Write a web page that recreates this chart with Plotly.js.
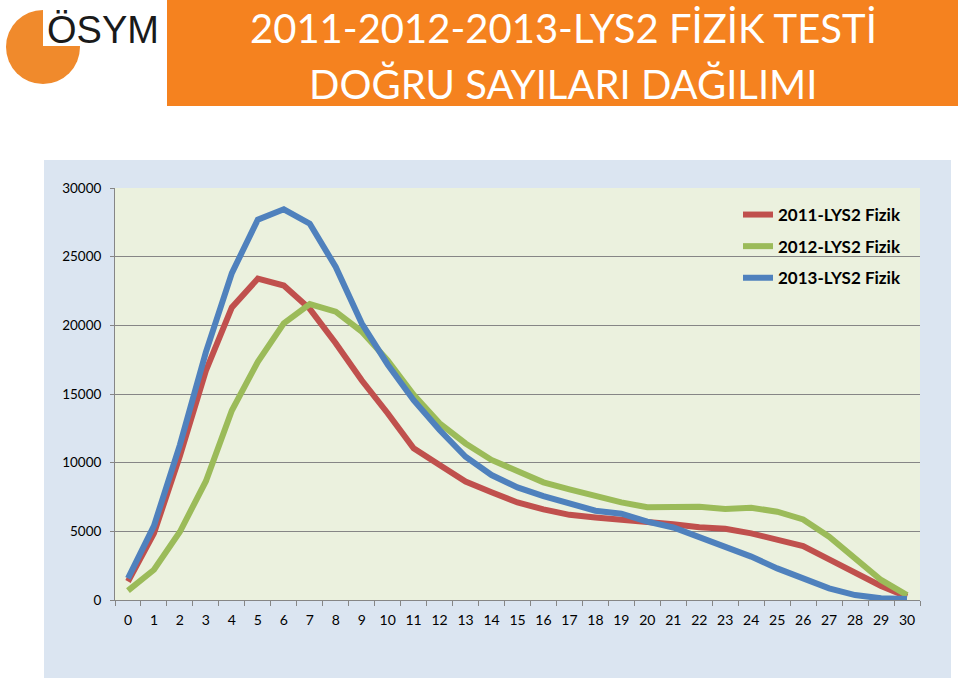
<!DOCTYPE html>
<html>
<head>
<meta charset="utf-8">
<script src="https://cdn.plot.ly/plotly-3.0.1.min.js"></script>
<style>
html,body{margin:0;padding:0;background:#ffffff;}
#chart{width:960px;height:680px;}
</style>
</head>
<body>
<div id="chart"></div>
<script>
// Categories: number of correct answers
const categories = ["0","1","2","3","4","5","6","7","8","9","10","11","12","13","14","15","16","17","18","19","20","21","22","23","24","25","26","27","28","29","30"];

// Series values (number of candidates)
const fizik2011 = [1350, 4850, 10500, 16700, 21300, 23400, 22900, 21200, 18700, 16000, 13600, 11050, 9830, 8620, 7850, 7100, 6600, 6200, 6000, 5870, 5680, 5520, 5290, 5190, 4850, 4440, 3930, 2960, 1990, 1020, 240];
const fizik2012 = [680, 2200, 4970, 8650, 13800, 17350, 20150, 21550, 21000, 19550, 17450, 14950, 12870, 11400, 10200, 9340, 8570, 8060, 7570, 7110, 6750, 6750, 6790, 6630, 6720, 6430, 5870, 4610, 3030, 1460, 360];
const fizik2013 = [1580, 5400, 11300, 18050, 23800, 27700, 28450, 27400, 24250, 20150, 17150, 14550, 12380, 10430, 9100, 8200, 7570, 7090, 6500, 6280, 5700, 5280, 4610, 3830, 3160, 2300, 1580, 850, 360, 120, 70];

const seriesNames = ["2011-LYS2 Fizik", "2012-LYS2 Fizik", "2013-LYS2 Fizik"];
const yTickValues = [0, 5000, 10000, 15000, 20000, 25000, 30000];
const titleLine1 = "2011-2012-2013-LYS2 FİZİK TESTİ";
const titleLine2 = "DOĞRU SAYILARI DAĞILIMI";
const logoText = "ÖSYM";

const colors = ["#c0504d", "#9bbb59", "#4f81bd"];
const seriesData = [fizik2011, fizik2012, fizik2013];

const traces = seriesData.map((vals, i) => ({
  type: "scatter",
  mode: "lines",
  x: categories,
  y: vals,
  name: seriesNames[i],
  legendgroup: "g" + i,
  line: {color: colors[i], width: 6},
  hoverinfo: "skip"
}));

// geometry helpers (pixel -> paper)
const W = 960, H = 680;
const M = {l: 115, r: 40, t: 188, b: 80};
const PW = W - M.l - M.r, PH = H - M.t - M.b;
const px = v => (v - M.l) / PW;
const py = v => (H - M.b - v) / PH;

const layout = {
  width: W, height: H,
  margin: M,
  paper_bgcolor: "#ffffff",
  plot_bgcolor: "#ebf1de",
  font: {family: "Lato, 'Open Sans', sans-serif", color: "#000000", size: 13},
  showlegend: true,
  legend: {
    x: px(738), y: py(197), xanchor: "left", yanchor: "top",
    bgcolor: "rgba(0,0,0,0)",
    font: {family: "Lato, sans-serif", size: 17, color: "#000000", weight: "bold"},
    tracegroupgap: 6.5,
    traceorder: "grouped"
  },
  xaxis: {
    type: "category",
    range: [-0.5, 30.5],
    tickson: "boundaries",
    ticks: "outside", ticklen: 5, tickcolor: "#868686",
    ticklabelstandoff: 7,
    showline: true, linecolor: "#868686", linewidth: 1,
    showgrid: false, zeroline: false,
    tickfont: {size: 14, color: "#000000"},
    fixedrange: true
  },
  yaxis: {
    range: [0, 30000],
    tickvals: yTickValues,
    ticktext: yTickValues.map(String),
    ticks: "outside", ticklen: 4, tickcolor: "#868686",
    ticklabelstandoff: 6,
    showline: true, linecolor: "#868686", linewidth: 1,
    showgrid: true, gridcolor: "#868686", gridwidth: 1,
    zeroline: false,
    tickfont: {size: 13.5, color: "#000000"},
    fixedrange: true
  },
  shapes: [
    // light blue chart area background
    {type: "rect", xref: "paper", yref: "paper", layer: "below",
     x0: px(44), x1: px(951), y0: py(678), y1: py(160),
     fillcolor: "#dbe5f1", line: {width: 0}},
    // plot area fill
    {type: "rect", xref: "paper", yref: "paper", layer: "below",
     x0: 0, x1: 1, y0: 0, y1: 1,
     fillcolor: "#ebf1de", line: {width: 0}},
    // orange title banner
    {type: "rect", xref: "paper", yref: "paper", layer: "below",
     x0: px(167), x1: px(958), y0: py(106), y1: py(0),
     fillcolor: "#f5821f", line: {width: 0}},
    // logo circle
    {type: "circle", xref: "paper", yref: "paper", layer: "below",
     x0: px(6), x1: px(80), y0: py(84), y1: py(10),
     fillcolor: "#f08a2c", line: {width: 0}},
    // cut-out quadrant of the logo
    {type: "rect", xref: "paper", yref: "paper", layer: "below",
     x0: px(43), x1: px(82), y0: py(46), y1: py(8),
     fillcolor: "#ffffff", line: {width: 0}}
  ],
  annotations: [
    {xref: "paper", yref: "paper", x: px(45), y: py(30), xanchor: "left", yanchor: "middle",
     text: logoText, showarrow: false,
     font: {family: "'Liberation Sans', Arial, sans-serif", size: 38, color: "#1a1a1a"}},
    {xref: "paper", yref: "paper", x: px(563), y: py(28), xanchor: "center", yanchor: "middle",
     text: titleLine1, showarrow: false,
     font: {family: "Lato, sans-serif", size: 40, color: "#ffffff"}},
    {xref: "paper", yref: "paper", x: px(563), y: py(84), xanchor: "center", yanchor: "middle",
     text: titleLine2, showarrow: false,
     font: {family: "Lato, sans-serif", size: 40, color: "#ffffff"}}
  ]
};

Plotly.newPlot("chart", traces, layout, {staticPlot: true, displayModeBar: false});
</script>
</body>
</html>
